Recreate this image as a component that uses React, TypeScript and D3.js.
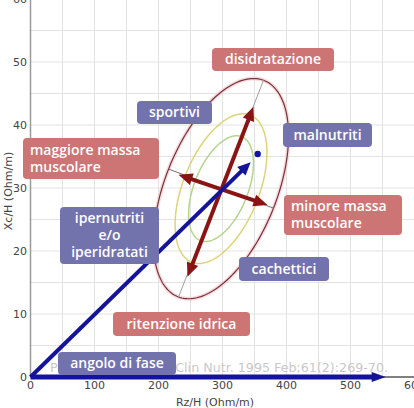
import React from "react";
import * as d3 from "d3";

// ---- data ----
const xTicks = [0, 100, 200, 300, 400, 500, 600];
const yTicks = [0, 10, 20, 30, 40, 50, 60];
const xGrid = d3.range(0, 601, 50);
const yGrid = d3.range(0, 61, 5);

const ellipseCenter = [297.7, 29.9];
const ellipseMajor = [66.4, 17.2];
const ellipseMinor = [82.0, -3.1];
const ellipseLevels = [0.48, 0.68, 1.0];
const ellipseColors = ["#b6d48e", "#ddd47a", "#7a3040"];

const majorArrow = [[245.3, 15.9], [348.4, 42.9]];
const minorArrow = [[231.3, 32.1], [370.3, 27.3]];
const impedanceVector = [[0, 0], [344, 34.1]];
const resistanceVector = [[0, 0], [555, 0]];
const meanPoint = [355, 35.4];

const labelTexts = [
  ["disidratazione"],
  ["sportivi"],
  ["maggiore massa", "muscolare"],
  ["malnutriti"],
  ["minore massa", "muscolare"],
  ["ipernutriti", "e/o", "iperidratati"],
  ["cachettici"],
  ["ritenzione idrica"],
  ["angolo di fase"],
];
const labelKinds = ["red", "blue", "red", "blue", "red", "blue", "blue", "red", "blue"];

const citation = "Piccoli A et al. Am J Clin Nutr. 1995 Feb;61(2):269-70.";

// ---- layout ----
const W = 414, H = 408;
const labelBoxes = [
  { x: 212, y: 48, w: 122, h: 23, align: "middle" },
  { x: 137, y: 101, w: 75, h: 23, align: "middle" },
  { x: 23, y: 138, w: 136, h: 41, align: "start" },
  { x: 283, y: 123, w: 89, h: 24, align: "middle" },
  { x: 284, y: 195, w: 118, h: 40, align: "start" },
  { x: 60, y: 207, w: 99, h: 57, align: "middle" },
  { x: 239, y: 257, w: 90, h: 24, align: "middle" },
  { x: 113, y: 312, w: 137, h: 24, align: "middle" },
  { x: 58, y: 352, w: 118, h: 23, align: "middle" },
];
const boxColor: Record<string, string> = { red: "#cd7474", blue: "#7272ac" };

export default function App() {
  const x = d3.scaleLinear().domain([0, 600]).range([30.5, 414.5]);
  const y = d3.scaleLinear().domain([0, 60]).range([377, -1]);

  const ellipsePath = (k: number) => {
    const pts = d3.range(0, 200).map((i) => {
      const t = (i / 200) * Math.PI * 2;
      const dx = k * (ellipseMajor[0] * Math.cos(t) + ellipseMinor[0] * Math.sin(t));
      const dy = k * (ellipseMajor[1] * Math.cos(t) + ellipseMinor[1] * Math.sin(t));
      return [x(ellipseCenter[0] + dx), y(ellipseCenter[1] + dy)] as [number, number];
    });
    return d3.line().curve(d3.curveLinearClosed)(pts) as string;
  };

  const head = (tx: number, ty: number, fx: number, fy: number, len: number, hw: number) => {
    const ang = Math.atan2(ty - fy, tx - fx);
    const bx = tx - len * Math.cos(ang), by = ty - len * Math.sin(ang);
    const px = -Math.sin(ang) * hw, py = Math.cos(ang) * hw;
    return `M${tx},${ty}L${bx + px},${by + py}L${bx - px},${by - py}Z`;
  };

  const arrow = (a: number[], b: number[], color: string, width: number, len: number, hw: number, both: boolean) => {
    const x1 = x(a[0]), y1 = y(a[1]), x2 = x(b[0]), y2 = y(b[1]);
    const ang = Math.atan2(y2 - y1, x2 - x1);
    const s = len * 0.8;
    const sx1 = both ? x1 + s * Math.cos(ang) : x1;
    const sy1 = both ? y1 + s * Math.sin(ang) : y1;
    const sx2 = x2 - s * Math.cos(ang), sy2 = y2 - s * Math.sin(ang);
    return (
      <g>
        <line x1={sx1} y1={sy1} x2={sx2} y2={sy2} stroke={color} strokeWidth={width} />
        <path d={head(x2, y2, x1, y1, len, hw)} fill={color} />
        {both && <path d={head(x1, y1, x2, y2, len, hw)} fill={color} />}
      </g>
    );
  };

  const axisLine = (k: number) => {
    const p1 = [ellipseCenter[0] - ellipseMajor[0] * k, ellipseCenter[1] - ellipseMajor[1] * k];
    const p2 = [ellipseCenter[0] + ellipseMajor[0] * k, ellipseCenter[1] + ellipseMajor[1] * k];
    return [p1, p2];
  };
  const minorLine = [
    [ellipseCenter[0] - ellipseMinor[0], ellipseCenter[1] - ellipseMinor[1]],
    [ellipseCenter[0] + ellipseMinor[0], ellipseCenter[1] + ellipseMinor[1]],
  ];
  const majLine = axisLine(1);

  const font = "'Open Sans', 'DejaVu Sans', sans-serif";

  return (
    <svg width={W} height={H} style={{ position: "absolute", left: 0, top: 0, background: "#fff" }}>
      {/* grid */}
      {xGrid.map((v) => (
        <line key={"gx" + v} x1={x(v)} x2={x(v)} y1={0} y2={y(0)} stroke="#e3e3e3" strokeWidth={1} />
      ))}
      {yGrid.map((v) => (
        <line key={"gy" + v} x1={x(0)} x2={W} y1={y(v)} y2={y(v)} stroke="#e3e3e3" strokeWidth={1} />
      ))}
      {/* axes */}
      <line x1={x(0)} x2={x(0)} y1={0} y2={y(0)} stroke="#9a9a9a" strokeWidth={1.5} />
      <line x1={x(0)} x2={W} y1={y(0)} y2={y(0)} stroke="#111" strokeWidth={1} />
      {xTicks.map((v) => (
        <text key={"xt" + v} x={x(v)} y={389} textAnchor="middle" fontSize={11} fill="#444" fontFamily="'DejaVu Sans', sans-serif">
          {v}
        </text>
      ))}
      {yTicks.map((v) => (
        <text key={"yt" + v} x={27} y={y(v) + 4} textAnchor="end" fontSize={11} fill="#444" fontFamily="'DejaVu Sans', sans-serif">
          {v}
        </text>
      ))}
      <text x={215} y={406} textAnchor="middle" fontSize={11} fill="#444" fontFamily="'DejaVu Sans', sans-serif">
        Rz/H (Ohm/m)
      </text>
      <text transform="translate(12,191) rotate(-90)" textAnchor="middle" fontSize={11} fill="#444" fontFamily="'DejaVu Sans', sans-serif">
        Xc/H (Ohm/m)
      </text>
      {/* citation watermark */}
      <text x={50} y={372} fontSize={13} fill="#c8c8c8" fontFamily="'DejaVu Sans', sans-serif" textLength={338} lengthAdjust="spacingAndGlyphs">
        {citation}
      </text>
      {/* ellipses */}
      <path d={ellipsePath(1)} fill="none" stroke="#f2cccc" strokeWidth={4} opacity={0.7} />
      {ellipseLevels.map((k, i) => (
        <path key={"el" + k} d={ellipsePath(k)} fill="none" stroke={ellipseColors[i]} strokeWidth={i === 2 ? 1.2 : 1.5} />
      ))}
      <line x1={x(majLine[0][0])} y1={y(majLine[0][1])} x2={x(majLine[1][0])} y2={y(majLine[1][1])} stroke="#a0a0a0" strokeWidth={1} />
      <line x1={x(minorLine[0][0])} y1={y(minorLine[0][1])} x2={x(minorLine[1][0])} y2={y(minorLine[1][1])} stroke="#707070" strokeWidth={1} />
      {/* arrows */}
      {arrow(majorArrow[0], majorArrow[1], "#8a1414", 4, 14, 6, true)}
      {arrow(minorArrow[0], minorArrow[1], "#8a1414", 4, 14, 6, true)}
      {arrow(resistanceVector[0], resistanceVector[1], "#14149a", 5, 14, 5, false)}
      {arrow(impedanceVector[0], impedanceVector[1], "#14149a", 4, 13, 6, false)}
      <circle cx={x(meanPoint[0])} cy={y(meanPoint[1])} r={3.2} fill="#14149a" />
      {/* labels */}
      {labelTexts.map((lines, i) => {
        const b = labelBoxes[i];
        const lh = 17;
        const total = lines.length * lh;
        const ty0 = b.y + (b.h - total) / 2 + 13;
        const tx = b.align === "middle" ? b.x + b.w / 2 : b.x + 7;
        return (
          <g key={"lb" + i}>
            <rect x={b.x} y={b.y} width={b.w} height={b.h} rx={4} fill={boxColor[labelKinds[i]]} />
            <text x={tx} textAnchor={b.align} fontSize={14} fontWeight={600} fill="#fff" fontFamily={font}>
              {lines.map((l, j) => (
                <tspan key={j} x={tx} y={ty0 + j * lh}>
                  {l}
                </tspan>
              ))}
            </text>
          </g>
        );
      })}
    </svg>
  );
}
